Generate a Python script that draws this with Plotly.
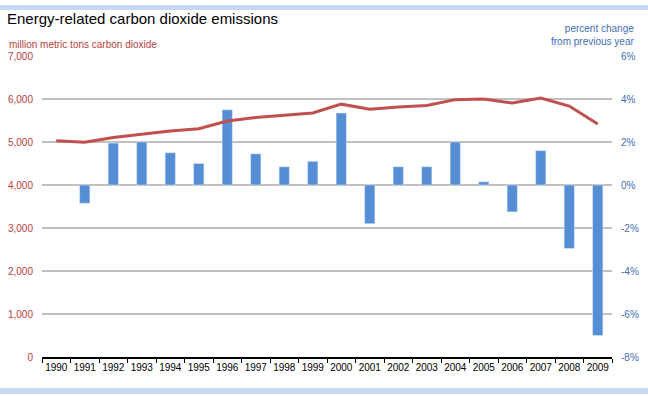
import plotly.graph_objects as go

years = [str(y) for y in range(1990, 2010)]
emissions = [5030, 4995, 5105, 5186, 5256, 5310, 5490, 5570, 5615, 5675,
             5880, 5760, 5815, 5850, 5985, 6000, 5905, 6020, 5835, 5420]
pct_change = [None, -0.85, 1.95, 2.0, 1.5, 1.0, 3.5, 1.45, 0.85, 1.1,
              3.35, -1.8, 0.85, 0.85, 2.0, 0.15, -1.25, 1.6, -2.95, -7.0]

left_ticks = [0, 1000, 2000, 3000, 4000, 5000, 6000, 7000]
right_ticks = [-8, -6, -4, -2, 0, 2, 4, 6]

RED = "#B5403F"
BLUE = "#3F6EB5"
FONT = "Arial, Liberation Sans, sans-serif"

fig = go.Figure()
fig.add_trace(go.Bar(x=years, y=pct_change, yaxis="y", marker_color="#558ED5",
                     width=0.36, showlegend=False))
fig.add_trace(go.Scatter(x=years, y=emissions, yaxis="y2", mode="lines",
                         line=dict(color="#C0504D", width=3), showlegend=False))

fig.update_layout(
    width=648, height=396,
    margin=dict(l=42, r=36, t=56, b=39, autoexpand=False),
    paper_bgcolor="white", plot_bgcolor="white",
    font=dict(family=FONT, size=10, color="black"),
    xaxis=dict(type="category", tickson="boundaries", ticks="outside", ticklen=4,
               tickcolor="black", showline=True, linecolor="black", linewidth=1.5,
               showgrid=False, tickfont=dict(size=10, color="black"), tickangle=0,
               automargin=False),
    yaxis=dict(side="right", range=[-8, 6], tickvals=right_ticks,
               ticktext=[f"{v}%" for v in right_ticks], showgrid=True,
               gridcolor="#C0C0C0", gridwidth=1.5, zeroline=False, automargin=False,
               tickfont=dict(color=BLUE, size=10), ticklabelstandoff=8),
    yaxis2=dict(side="left", overlaying="y", range=[0, 7000], tickvals=left_ticks,
                ticktext=[f"{v:,}" for v in left_ticks], showgrid=False, zeroline=False,
                automargin=False,
                tickfont=dict(color=RED, size=10), ticklabelstandoff=8),
    shapes=[
        dict(type="rect", xref="paper", yref="paper", x0=-0.1, x1=1.1,
             y0=1 + 46/301, y1=1 + 51/301,
             fillcolor="#C6D9F1", line_width=0, layer="below"),
        dict(type="rect", xref="paper", yref="paper", x0=-0.1, x1=1.1,
             y0=-31/301, y1=-37/301, fillcolor="#C6D9F1", line_width=0),
    ],
    annotations=[
        dict(text="Energy-related carbon dioxide emissions", xref="paper", yref="paper",
             x=-42/570, y=1, yshift=27, xshift=5, xanchor="left", yanchor="bottom",
             showarrow=False, font=dict(size=15, color="black")),
        dict(text="million metric tons carbon dioxide", xref="paper", yref="paper",
             x=-42/570, xshift=7, y=1, yshift=4, xanchor="left", yanchor="bottom",
             showarrow=False, font=dict(size=10, color=RED)),
        dict(text="percent change<br>from previous year", xref="paper", yref="paper",
             x=1, xshift=24, y=1, yshift=7, xanchor="right", yanchor="bottom", align="right",
             showarrow=False, font=dict(size=10, color=BLUE)),
    ],
)

fig.write_html("out.html", config={"displayModeBar": False},
               post_script="document.body.style.margin='0';")
